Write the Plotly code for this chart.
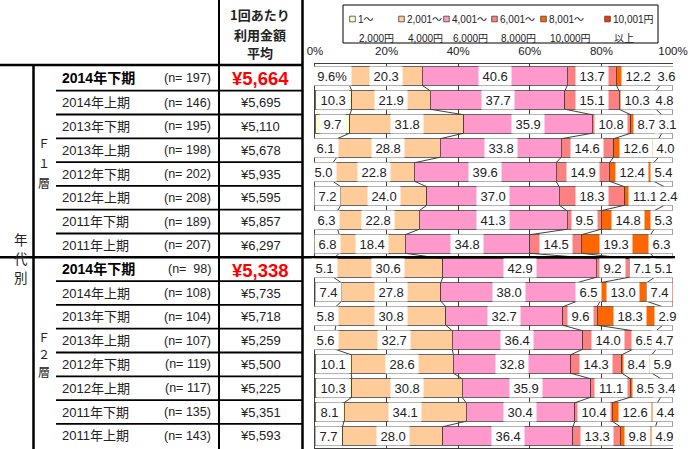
import plotly.graph_objects as go

# ---------------- data ----------------
periods = ["2014年下期", "2014年上期", "2013年下期", "2013年上期",
           "2012年下期", "2012年上期", "2011年下期", "2011年上期"]
groups = ["Ｆ１層", "Ｆ２層"]
group_title = "年代別"
n_f1 = [197, 146, 195, 198, 202, 208, 189, 207]
n_f2 = [98, 108, 104, 107, 119, 117, 135, 143]
avg_f1 = [5664, 5695, 5110, 5678, 5935, 5595, 5857, 6297]
avg_f2 = [5338, 5735, 5718, 5259, 5500, 5225, 5351, 5593]
header_lines = ["1回あたり", "利用金額", "平均"]

series_names = ["1～<br>2,000円", "2,001～<br>4,000円", "4,001～<br>6,000円",
                "6,001～<br>8,000円", "8,001～<br>10,000円", "10,001円<br>以上"]
legend_line1 = ["1～", "2,001～", "4,001～", "6,001～", "8,001～", "10,001円"]
legend_line2 = ["2,000円", "4,000円", "6,000円", "8,000円", "10,000円", "以上"]
colors = ["#FFFFCC", "#FFCC99", "#FF99CC", "#FF8080", "#FF6600", "#FF3300"]

s1 = [9.6, 10.3, 9.7, 6.1, 5.0, 7.2, 6.3, 6.8, 5.1, 7.4, 5.8, 5.6, 10.1, 10.3, 8.1, 7.7]
s2 = [20.3, 21.9, 31.8, 28.8, 22.8, 24.0, 22.8, 18.4, 30.6, 27.8, 30.8, 32.7, 28.6, 30.8, 34.1, 28.0]
s3 = [40.6, 37.7, 35.9, 33.8, 39.6, 37.0, 41.3, 34.8, 42.9, 38.0, 32.7, 36.4, 32.8, 35.9, 30.4, 36.4]
s4 = [13.7, 15.1, 10.8, 14.6, 14.9, 18.3, 9.5, 14.5, 9.2, 6.5, 9.6, 14.0, 14.3, 11.1, 10.4, 13.3]
s5 = [12.2, 10.3, 8.7, 12.6, 12.4, 11.1, 14.8, 19.3, 7.1, 13.0, 18.3, 6.5, 8.4, 8.5, 12.6, 9.8]
s6 = [3.6, 4.8, 3.1, 4.0, 5.4, 2.4, 5.3, 6.3, 5.1, 7.4, 2.9, 4.7, 5.9, 3.4, 4.4, 4.9]
series = [s1, s2, s3, s4, s5, s6]

# ---------------- layout helpers ----------------
W, H = 700, 449
PL, PR, PT, PB = 315, 673, 64, 448
NUM = "Liberation Sans, Noto Sans CJK JP, sans-serif"
JP = "Noto Sans CJK JP, sans-serif"
TXT = "#222222"
LINE = "#404040"


def px(x):
    return (x - PL) / (PR - PL)


def py(y):
    return (PB - y) / (PB - PT)


def est_width(t, size):
    w = 0.0
    for ch in t:
        if ch.isdigit():
            w += 0.556
        elif ch == "%":
            w += 0.889
        else:
            w += 0.278
    return w * size


nrows = len(s1)
rows = list(range(nrows))
BW = 0.77

fig = go.Figure()
for name, vals, col in zip(series_names, series, colors):
    fig.add_trace(go.Bar(
        y=rows, x=vals, orientation="h", name=name, width=BW,
        marker=dict(color=col, line=dict(color=LINE, width=0.8)),
        showlegend=False, hoverinfo="skip"))

# normalized cumulative boundaries
totals = [sum(s[r] for s in series) for r in rows]
cums = []
for r in rows:
    c, acc = [], 0.0
    for s in series:
        acc += s[r] / totals[r] * 100
        c.append(acc)
    cums.append(c)

# series lines
lx, ly = [], []
for k in range(len(series)):
    for r in range(nrows - 1):
        lx += [cums[r][k], cums[r + 1][k], None]
        ly += [r + BW / 2, r + 1 - BW / 2, None]
fig.add_trace(go.Scatter(x=lx, y=ly, mode="lines", line=dict(color=LINE, width=1),
                         showlegend=False, hoverinfo="skip"))

ann = []
# data labels
for r in rows:
    prev = 0.0
    for k, s in enumerate(series):
        center = (prev + cums[r][k]) / 2
        prev = cums[r][k]
        txt = f"{s[r]:.1f}" + ("%" if (r == 0 and k == 0) else "")
        ann.append(dict(x=center, y=r, xref="x", yref="y", text=txt, showarrow=False,
                        xanchor="center", yanchor="middle",
                        font=dict(family=NUM, size=13, color=TXT),
                        width=est_width(txt, 13) + 5, height=16, align="center",
                        bgcolor="white", borderpad=1))

# ---------------- table ----------------
shapes = []


def hline(x0, x1, y, w):
    shapes.append(dict(type="line", xref="paper", yref="paper", x0=px(x0), x1=px(x1),
                       y0=py(y), y1=py(y), line=dict(color="black", width=w)))


def vline(x, y0, y1, w):
    shapes.append(dict(type="line", xref="paper", yref="paper", x0=px(x), x1=px(x),
                       y0=py(y0), y1=py(y1), line=dict(color="black", width=w)))


ROW0_TOP = 65
ROW1_TOP = 90.7
RH = 23.8


def row_top(i):
    return ROW0_TOP if i == 0 else ROW1_TOP + RH * (i - 1)


def row_bot(i):
    return ROW1_TOP + RH * i


hline(0, 303, 65, 2.5)
for i in range(1, nrows):
    if i == 8:
        hline(0, 675, row_top(i), 2.5)
    else:
        hline(56, 303, row_top(i), 1.8)
vline(33.5, 65, 449, 2.5)
vline(219, 0, 449, 2)
vline(302.5, 0, 449, 2.5)

# header
for j, t in enumerate(header_lines):
    ann.append(dict(x=px(260), y=py([15, 34, 52][j]), xref="paper", yref="paper", text=t,
                    showarrow=False, font=dict(family=JP, size=13, color=TXT, weight="bold"),
                    xanchor="center", yanchor="middle"))

ns = n_f1 + n_f2
avgs = avg_f1 + avg_f2
for i in range(nrows):
    yc = (row_top(i) + row_bot(i)) / 2
    first = (i % 8 == 0)
    ann.append(dict(x=px(60), y=py(yc), xref="paper", yref="paper", text=periods[i % 8],
                    showarrow=False, xanchor="left", yanchor="middle",
                    font=dict(family=NUM, size=14 if first else 13, color="black" if first else TXT,
                              weight="bold" if first else "normal")))
    ntxt = f"(n= {ns[i]:>3})".replace(" ", "\u00a0")
    ann.append(dict(x=px(213), y=py(yc), xref="paper", yref="paper", text=ntxt,
                    showarrow=False, xanchor="right", yanchor="middle",
                    font=dict(family=NUM, size=12.5, color=TXT)))
    ann.append(dict(x=px(260), y=py(yc + (1 if first else 0)), xref="paper", yref="paper",
                    text=f"¥{avgs[i]:,}", showarrow=False, xanchor="center", yanchor="middle",
                    font=dict(family=NUM, size=18.5 if first else 13,
                              color="#FF0000" if first else TXT,
                              weight="bold" if first else "normal")))

# vertical group labels
for ch, yy in zip(group_title, [239, 258, 277]):
    ann.append(dict(x=px(20.5), y=py(yy), xref="paper", yref="paper", text=ch, showarrow=False,
                    xanchor="center", yanchor="middle",
                    font=dict(family=JP, size=13.5, color=TXT), borderpad=0))
for g, ys in zip(groups, [[142, 162, 182], [336, 353, 371]]):
    for ch, yy in zip(g, ys):
        ann.append(dict(x=px(44), y=py(yy), xref="paper", yref="paper", text=ch, showarrow=False,
                        xanchor="center", yanchor="middle",
                        font=dict(family=JP, size=12, color=TXT), borderpad=0))

# ---------------- legend ----------------
shapes.append(dict(type="rect", xref="paper", yref="paper", x0=px(343), x1=px(658),
                   y0=py(43), y1=py(5), line=dict(color="black", width=1), fillcolor="white"))
mk_x = [352.5, 401.5, 446.5, 494.5, 543.5, 607.5]
tx_x = [356, 405, 450, 498, 547, 611]
for k in range(len(series)):
    shapes.append(dict(type="rect", xref="paper", yref="paper",
                       x0=px(mk_x[k] - 2.8), x1=px(mk_x[k] + 2.8),
                       y0=py(21.8), y1=py(16.2), fillcolor=colors[k],
                       line=dict(color=LINE, width=0.8)))
    ann.append(dict(x=px(tx_x[k]), y=py(19), xref="paper", yref="paper", text=legend_line1[k],
                    showarrow=False, xanchor="left", yanchor="middle",
                    font=dict(family=NUM, size=10, color=TXT)))
    ann.append(dict(x=px(tx_x[k] + 1), y=py(38), xref="paper", yref="paper", text=legend_line2[k],
                    showarrow=False, xanchor="left", yanchor="middle",
                    font=dict(family=NUM, size=10, color=TXT)))

fig.update_layout(
    width=W, height=H, barmode="stack", barnorm="percent",
    margin=dict(l=PL, r=W - PR, t=PT, b=H - PB, autoexpand=False),
    paper_bgcolor="white", plot_bgcolor="white",
    xaxis=dict(range=[0, 100], side="top", dtick=20, ticksuffix="%",
               showgrid=True, gridcolor=LINE, gridwidth=1, zeroline=False,
               showline=True, linecolor=LINE, linewidth=1, mirror=True,
               tickfont=dict(family=NUM, size=11.5, color=TXT), ticklabelstandoff=3,
               fixedrange=True),
    yaxis=dict(range=[nrows - 0.5, -0.5], showticklabels=False, showgrid=False,
               zeroline=False, showline=True, linecolor=LINE, linewidth=1, fixedrange=True),
    shapes=shapes, annotations=ann, showlegend=False,
)

fig.write_html(
    "out.html",
    config={"displayModeBar": False},
    post_script="document.body.style.margin='0px';"
                "document.documentElement.style.overflow='hidden';"
                "document.body.style.overflow='hidden';",
)
